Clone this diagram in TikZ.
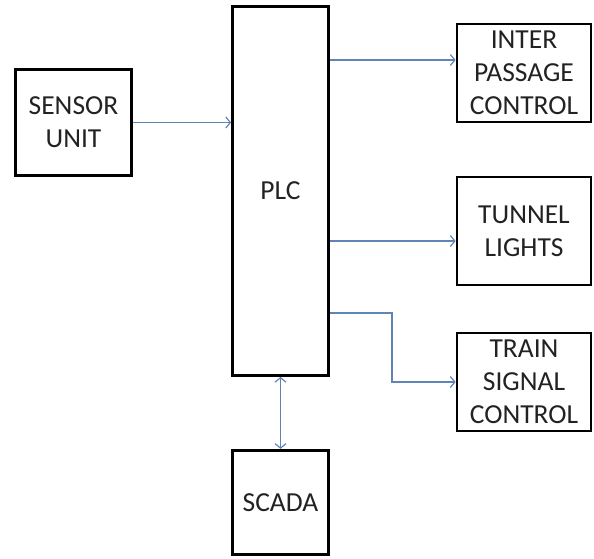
\documentclass[tikz,border=0pt]{standalone}
\usepackage{fontspec}
\setmainfont{Carlito}
\usetikzlibrary{
  arrows.meta,
  positioning
}
\definecolor{bdLink}{HTML}{5F84B5}
\definecolor{bdText}{HTML}{222222}
\tikzset{
  bdnode/.style={
    draw, line width=2.8pt, align=center, inner sep=0pt, text=bdText,
    font=\fontsize{27.5}{33}\selectfont
  },
  unitbox/.style={bdnode, minimum width=116pt, minimum height=106pt},
  plcbox/.style={bdnode, minimum width=96pt, minimum height=369pt},
  outbox/.style={bdnode, minimum width=134pt, minimum height=98pt},
  scadabox/.style={bdnode, minimum width=96pt, minimum height=104pt},
  link/.style={-{Straight Barb[length=4.5pt, width=11pt]}, line width=1.2pt, bdLink},
  duplex/.style={link, {Straight Barb[length=4.5pt, width=11pt]}-{Straight Barb[length=4.5pt, width=11pt]}}
}

\begin{document}
\begin{tikzpicture}[x=1pt, y=-1pt, node distance=72pt]
  \useasboundingbox (0,0) rectangle (594,558);
  \node[plcbox] (plc) at (280.5,191) {PLC};
  \node[unitbox] (sensor) at (73.5,122.5) {SENSOR\\UNIT};
  \node[outbox] (inter) at (524,73) {INTER\\PASSAGE\\CONTROL};
  \node[outbox, minimum height=108pt] (tunnel) at (524,231) {TUNNEL\\LIGHTS};
  \node[outbox] (train) at (524,382) {TRAIN\\SIGNAL\\CONTROL};
  \node[scadabox, below=of plc] (scada) {SCADA};
  \coordinate (ipin) at (inter.west |- 0,60);
  \coordinate (tlin) at (tunnel.west |- 0,241);
  \coordinate (tsbend) at (392,313);
  \draw[link] (sensor.east) -- (sensor.east -| plc.west);
  \draw[link] (ipin -| plc.east) -- (ipin);
  \draw[link] (tlin -| plc.east) -- (tlin);
  \draw[link] (tsbend -| plc.east) -- (tsbend) |- (train.west);
  \draw[duplex] (plc) -- (scada);
\end{tikzpicture}
\end{document}
